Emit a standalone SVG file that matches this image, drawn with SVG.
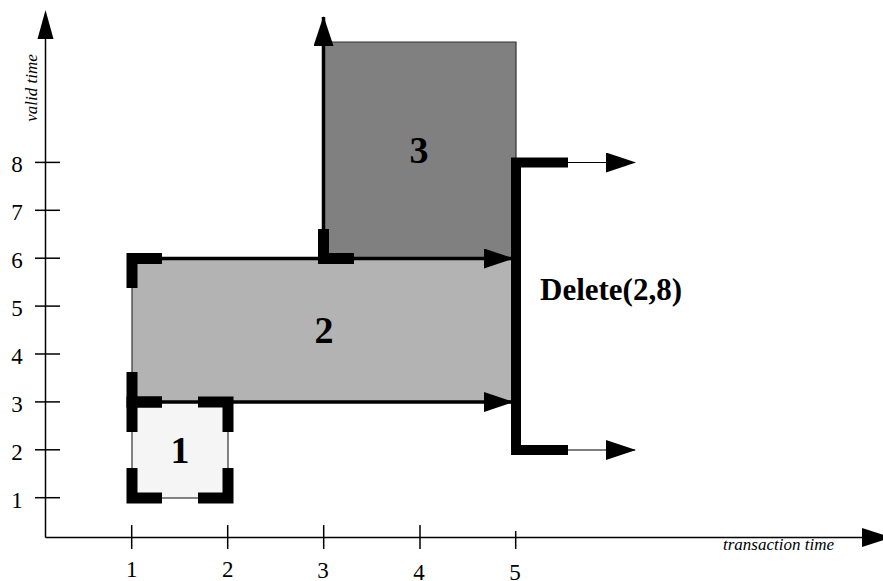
<svg xmlns="http://www.w3.org/2000/svg" width="883" height="581" viewBox="0 0 883 581">
  <style>
    .axis { stroke: #000; stroke-width: 1.5; fill: none; }
    .tick { stroke: #000; stroke-width: 1.5; }
    .num { font-family: "Liberation Serif", "Times New Roman", serif; font-size: 23px; fill: #000; }
    .axlabel { font-family: "Liberation Serif", "Times New Roman", serif; font-style: italic; font-size: 17px; fill: #000; }
    .big { font-family: "Liberation Serif", "Times New Roman", serif; font-weight: bold; font-size: 38px; fill: #000; text-anchor: middle; }
    .op { font-family: "Liberation Serif", "Times New Roman", serif; font-weight: bold; font-size: 31px; fill: #000; }
    .edge { stroke: #333; stroke-width: 1.2; fill: none; }
    .corner { stroke: #000; stroke-width: 11; fill: none; stroke-linejoin: miter; stroke-linecap: butt; }
    .bold-edge { stroke: #000; stroke-width: 3.5; fill: none; }
    .thin { stroke: #000; stroke-width: 1.2; fill: none; }
  </style>
  <defs>
    <marker id="head" markerUnits="userSpaceOnUse" markerWidth="30" markerHeight="20" refX="29" refY="10" orient="auto">
      <path d="M0,0 L30,10 L0,20 z" fill="#000"/>
    </marker>
  </defs>
  <rect width="883" height="581" fill="#fff"/>

  <!-- axes -->
  <g id="axes">
    <line class="axis" x1="45.5" y1="537.5" x2="45.5" y2="36"/>
    <path d="M37.5,39 L45.5,10 L53.5,39 z" fill="#000"/>
    <line class="axis" x1="45.5" y1="537.5" x2="864" y2="537.5"/>
    <path d="M862,528 L892,537.5 L862,547 z" fill="#000"/>

    <g id="y-ticks">
      <line class="tick" x1="35" y1="497.7" x2="60" y2="497.7"/>
      <line class="tick" x1="35" y1="449.8" x2="60" y2="449.8"/>
      <line class="tick" x1="35" y1="401.9" x2="60" y2="401.9"/>
      <line class="tick" x1="35" y1="354" x2="60" y2="354"/>
      <line class="tick" x1="35" y1="306.1" x2="60" y2="306.1"/>
      <line class="tick" x1="35" y1="258.2" x2="60" y2="258.2"/>
      <line class="tick" x1="35" y1="210.3" x2="60" y2="210.3"/>
      <line class="tick" x1="35" y1="162.4" x2="60" y2="162.4"/>
    </g>
    <g id="y-labels" class="num" text-anchor="middle">
      <text x="17" y="508">1</text>
      <text x="17" y="460">2</text>
      <text x="17" y="412">3</text>
      <text x="17" y="364">4</text>
      <text x="17" y="316">5</text>
      <text x="17" y="268">6</text>
      <text x="17" y="220">7</text>
      <text x="17" y="172">8</text>
    </g>
    <g id="x-ticks">
      <line class="tick" x1="131.7" y1="525" x2="131.7" y2="549"/>
      <line class="tick" x1="227.7" y1="525" x2="227.7" y2="549"/>
      <line class="tick" x1="323.7" y1="525" x2="323.7" y2="549"/>
      <line class="tick" x1="420" y1="525" x2="420" y2="549"/>
      <line class="tick" x1="515.7" y1="531" x2="515.7" y2="549"/>
    </g>
    <g id="x-labels" class="num" text-anchor="middle">
      <text x="131.7" y="577">1</text>
      <text x="227.7" y="577">2</text>
      <text x="323" y="578">3</text>
      <text x="419" y="580">4</text>
      <text x="515" y="580">5</text>
    </g>
    <text class="axlabel" transform="translate(37,88) rotate(-90)" text-anchor="middle">valid time</text>
    <text class="axlabel" x="723" y="550">transaction time</text>
  </g>

  <!-- tuple 3 -->
  <g id="node-3">
    <rect x="323.5" y="42" width="192.5" height="217" fill="#808080"/>
    <path class="edge" d="M323.5,42 H516 V259"/>
    <text class="big" x="419" y="163">3</text>
  </g>

  <!-- tuple 2 -->
  <g id="node-2">
    <rect x="132" y="258.5" width="383.5" height="143.5" fill="#b3b3b3"/>
    <line class="edge" x1="132" y1="258.5" x2="132" y2="402"/>
    <text class="big" x="324" y="343">2</text>
  </g>

  <!-- tuple 1 -->
  <g id="node-1">
    <rect x="132" y="402" width="96" height="96" fill="#f5f5f5"/>
    <rect class="edge" x="132" y="402" width="96" height="96"/>
    <text class="big" x="180" y="463">1</text>
  </g>

  <!-- bounding edges and growth arrows -->
  <g id="connectors">
    <line class="bold-edge" x1="132" y1="258.5" x2="513" y2="258.5" marker-end="url(#head)"/>
    <line class="bold-edge" x1="132" y1="402" x2="513" y2="402" marker-end="url(#head)"/>
    <line class="bold-edge" x1="323.5" y1="259" x2="323.5" y2="17" marker-end="url(#head)"/>
    <line class="thin" x1="566" y1="162.5" x2="635" y2="162.5" marker-end="url(#head)"/>
    <line class="thin" x1="566" y1="450" x2="635" y2="450" marker-end="url(#head)"/>
  </g>

  <!-- corner markers -->
  <g id="corners">
    <path class="corner" d="M132,468 V498 H162"/>
    <path class="corner" d="M198,498 H228 V468"/>
    <path class="corner" d="M198,402 H228 V432"/>
    <path class="corner" d="M132,432 V402 H162"/>
    <path class="corner" d="M132,372 V402 H162"/>
    <path class="corner" d="M132,288 V258.5 H162"/>
    <path class="corner" d="M323.5,229 V258.5 H354"/>
  </g>

  <!-- delete operation -->
  <g id="delete">
    <path d="M568,162.5 H516 V450 H568" stroke="#000" stroke-width="10" fill="none" stroke-linejoin="miter"/>
    <text class="op" x="540" y="300">Delete(2,8)</text>
  </g>
</svg>
